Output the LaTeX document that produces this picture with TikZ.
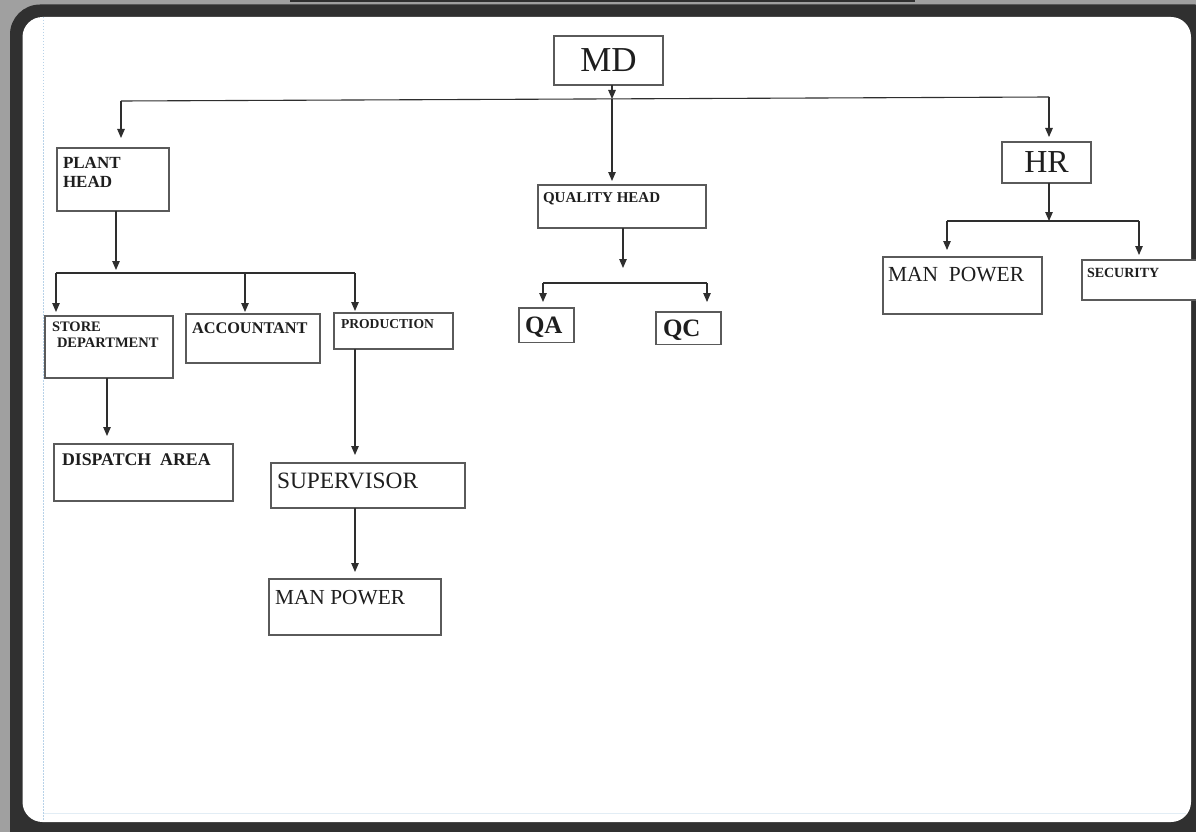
\documentclass[tikz,border=0pt]{standalone}
\usepackage{fontspec}
\setmainfont{Liberation Serif}
\usetikzlibrary{arrows.meta}
\definecolor{bggray}{HTML}{A0A0A0}
\definecolor{framec}{HTML}{303030}
\definecolor{boxc}{HTML}{5A5A5A}
\definecolor{linec}{HTML}{2E2E2E}
\definecolor{txtc}{HTML}{1E1E1E}
\definecolor{guideblue}{HTML}{B8D2E8}
\definecolor{guidepale}{HTML}{E2EDF5}
\newcommand\orgbox[9]{% name, x, y, w, h, dx, dy, align, content
  \node[orgnode, inner xsep=#6pt, inner ysep=#7pt] (#1) at (#2,#3)
    {\parbox[t][\dimexpr#5pt-#7pt*2\relax][t]{\dimexpr#4pt-#6pt*2\relax}{#8#9}};}
\begin{document}
\begin{tikzpicture}[x=1pt,y=-1pt,
  orgnode/.style={draw=boxc, line width=1.2pt, fill=white, anchor=north west,
    outer sep=0pt, text=txtc},
  ln/.style={draw=linec, line width=1.1pt},
  arr/.style={ln, -{Triangle[width=7.5pt,length=9pt]}}]
\useasboundingbox (0,0) rectangle (1196,832);
% background and frame
\fill[bggray] (0,0) rectangle (1196,832);
\fill[framec] (290,0) rectangle (915,2.5);
\fill[framec, rounded corners=30pt] (10,4.5) rectangle (1225,860);
\fill[white, rounded corners=20pt] (22.5,17) rectangle (1191,822);
\draw[guidepale, line width=1pt] (43.5,813) -- (1186,813);
\draw[guideblue, line width=0.8pt, dash pattern=on 1.5pt off 1.5pt] (43.5,17) -- (43.5,821);
% boxes
\orgbox{md}{554}{36}{109}{42}{3}{13}{\centering}{\fontsize{35}{38}\selectfont MD}
\orgbox{plant}{57}{148}{112}{63}{6}{9}{\raggedright}{\fontsize{17}{19.5}\selectfont\bfseries PLANT\\HEAD}
\orgbox{hr}{1002}{142}{89}{41}{3}{10}{\centering}{\fontsize{32}{34}\selectfont HR}
\orgbox{qh}{538}{185}{168}{43}{5}{8}{\raggedright}{\fontsize{15}{17}\selectfont\bfseries QUALITY HEAD}
\orgbox{store}{45}{316}{128}{62}{7}{6}{\raggedright}{\fontsize{14.5}{16}\selectfont\bfseries STORE\\\hspace*{5pt}DEPARTMENT}
\orgbox{acc}{186}{314}{134}{49}{6}{9}{\raggedright}{\fontsize{16.3}{18}\selectfont\bfseries ACCOUNTANT}
\orgbox{prod}{334}{313}{119}{36}{7}{6}{\raggedright}{\fontsize{13.6}{15}\selectfont\bfseries PRODUCTION}
\orgbox{disp}{54}{444}{179}{57}{8}{10}{\raggedright}{\fontsize{17.8}{19}\selectfont\bfseries DISPATCH\ \ AREA}
\orgbox{sup}{271}{463}{194}{45}{6}{10}{\raggedright}{\fontsize{23.4}{25}\selectfont SUPERVISOR}
\orgbox{mpa}{269}{579}{172}{56}{6}{11}{\raggedright}{\fontsize{21.4}{23}\selectfont MAN POWER}
\orgbox{qa}{519}{308}{55}{30}{6}{9}{\raggedright}{\fontsize{25}{26}\selectfont\bfseries QA}
\orgbox{qc}{656}{312}{65}{31}{7}{8}{\raggedright}{\fontsize{25}{26}\selectfont\bfseries QC}
\orgbox{mpb}{883}{257}{159}{57}{5}{10}{\raggedright}{\fontsize{21.5}{23}\selectfont MAN\ \ POWER}
\orgbox{sec}{1082}{260}{124}{40}{5}{8}{\raggedright}{\fontsize{14}{15}\selectfont\bfseries SECURITY}
% junction coordinates
\coordinate (tl) at (121,101);
\coordinate (tr) at (1049,97);
\coordinate (tm) at (612,99);
\coordinate (pj) at (116,270);
\coordinate (pl) at (56,273);
\coordinate (pa) at (245,273);
\coordinate (pr) at (355,273);
\coordinate (sx) at (107,400);
\coordinate (qj) at (623,268);
\coordinate (ql) at (543,283);
\coordinate (qr) at (707,283);
\coordinate (hj) at (1049,221);
\coordinate (hl) at (947,221);
\coordinate (hrr) at (1139,221);
% MD level
\draw[ln] (tl) -- (tr);
\draw[arr] (md.south -| tm) -- (tm);
\draw[arr, shorten >=4pt] (tm) -- (tm |- qh.north);
\draw[arr, shorten >=10pt] (tl) -- (tl |- plant.north);
\draw[arr, shorten >=5pt] (tr) -- (tr |- hr.north);
% plant head
\draw[arr] (plant.south -| pj) -- (pj);
\draw[ln] (pl) -- (pr);
\draw[arr, shorten >=4pt] (pl) -- (pl |- store.north);
\draw[arr, shorten >=2pt] (pa) -- (pa |- acc.north);
\draw[arr, shorten >=2pt] (pr) -- (pr |- prod.north);
\draw[arr, shorten >=8pt] (store.south -| sx) -- (sx |- disp.north);
\draw[arr, shorten >=8pt] (prod.south -| pr) -- (pr |- sup.north);
\draw[arr, shorten >=7pt] (sup.south -| pr) -- (pr |- mpa.north);
% quality head
\draw[arr] (qh.south -| qj) -- (qj);
\draw[ln] (ql) -- (qr);
\draw[arr, shorten >=6pt] (ql) -- (ql |- qa.north);
\draw[arr, shorten >=10pt] (qr) -- (qr |- qc.north);
% HR
\draw[arr] (hr.south -| hj) -- (hj);
\draw[ln] (hl) -- (hrr);
\draw[arr, shorten >=7pt] (hl) -- (hl |- mpb.north);
\draw[arr, shorten >=5pt] (hrr) -- (hrr |- sec.north);
\end{tikzpicture}
\end{document}
